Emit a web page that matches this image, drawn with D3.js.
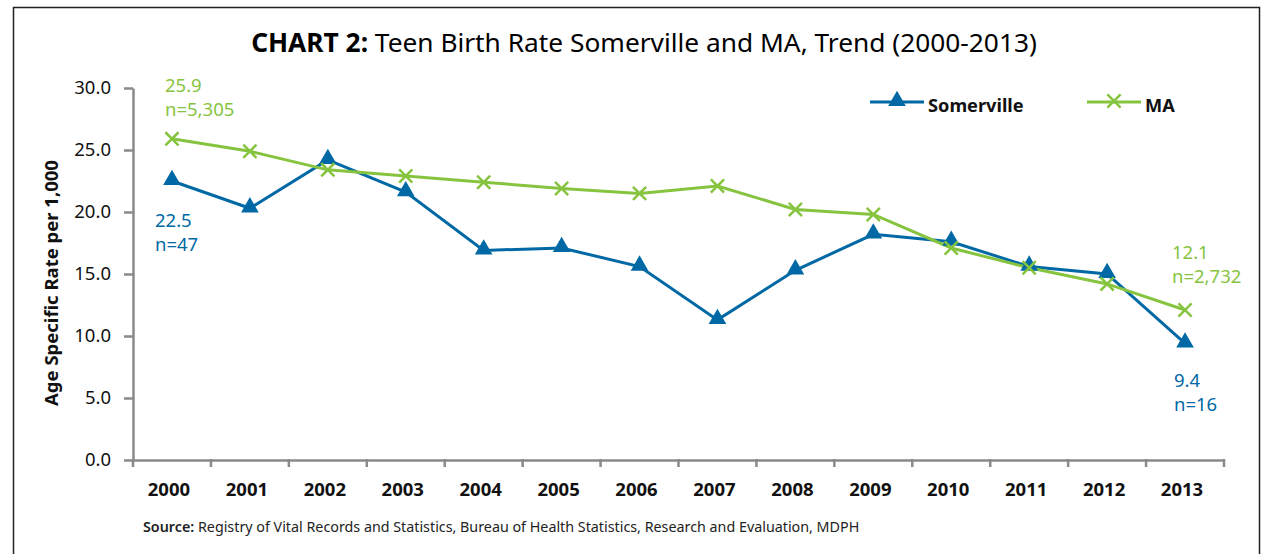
<!DOCTYPE html>
<html>
<head>
<meta charset="utf-8">
<script src="https://cdn.jsdelivr.net/npm/d3@7"></script>
<style>
  body { margin: 0; background: #fff; }
  text { font-family: "Noto Sans", sans-serif; }
</style>
</head>
<body>
<div id="my_dataviz"></div>
<script>
// data
const years = ["2000", "2001", "2002", "2003", "2004", "2005", "2006",
  "2007", "2008", "2009", "2010", "2011", "2012", "2013"];
const somerville = [22.5, 20.3, 24.2, 21.6, 16.9, 17.1, 15.6, 11.3, 15.3, 18.2, 17.6, 15.6, 15.0, 9.4];
const ma = [25.9, 24.9, 23.4, 22.9, 22.4, 21.9, 21.5, 22.1, 20.2, 19.8, 17.1, 15.5, 14.2, 12.1];
const yTicks = [0, 5, 10, 15, 20, 25, 30];

const blue = "#0069a5", green = "#86c440", axisGrey = "#8a8a8a";

// dimensions
const W = 1266, H = 554;
const plot = { left: 133, right: 1224, top: 88, bottom: 460 };

const svg = d3.select("#my_dataviz")
  .append("svg")
  .attr("width", W)
  .attr("height", H);

svg.append("rect").attr("width", W).attr("height", H).attr("fill", "#fff");

// outer frame (bottom edge runs off the page)
svg.append("rect")
  .attr("x", 13.5).attr("y", 7.5)
  .attr("width", 1246).attr("height", 600)
  .attr("fill", "none")
  .attr("stroke", "#222")
  .attr("stroke-width", 1.5);

// title
svg.append("text")
  .attr("x", 644).attr("y", 52)
  .attr("text-anchor", "middle")
  .style("font-size", "26.3px")
  .call(t => {
    t.append("tspan").attr("font-weight", "bold").text("CHART 2:");
    t.append("tspan").text(" Teen Birth Rate Somerville and MA, Trend (2000-2013)");
  });

// scales
const x = d3.scaleBand()
  .domain(years)
  .range([plot.left, plot.right])
  .padding(0);
const cx = d => x(d) + x.bandwidth() / 2;

const y = d3.scaleLinear()
  .domain([0, 30])
  .range([plot.bottom, plot.top]);

// Y axis
const yAxis = svg.append("g")
  .attr("transform", `translate(${plot.left},0)`)
  .call(d3.axisLeft(y).tickValues(yTicks).tickFormat(d3.format(".1f")).tickSize(9).tickSizeOuter(0).tickPadding(13));
yAxis.select(".domain").attr("stroke", axisGrey).attr("stroke-width", 2.5);
yAxis.selectAll(".tick line").attr("stroke", axisGrey).attr("stroke-width", 2.5);
yAxis.selectAll(".tick text")
  .attr("fill", "#111")
  .style("font-size", "18.5px");

// X axis: labels at band centres, ticks on band edges
const xAxis = svg.append("g")
  .attr("transform", `translate(0,${plot.bottom})`)
  .call(d3.axisBottom(x).tickSize(0).tickSizeOuter(0).tickPadding(23));
xAxis.select(".domain").attr("stroke", axisGrey).attr("stroke-width", 2.5);
xAxis.selectAll(".tick text")
  .attr("fill", "#111")
  .attr("font-weight", "bold")
  .attr("dx", -3)
  .style("font-size", "18.5px");
xAxis.selectAll(".edge")
  .data(years.concat(["end"]))
  .join("line")
  .attr("x1", (d, i) => plot.left + i * x.step())
  .attr("x2", (d, i) => plot.left + i * x.step())
  .attr("y1", -1).attr("y2", 7)
  .attr("stroke", axisGrey)
  .attr("stroke-width", 2.5);

// Y axis title
svg.append("text")
  .attr("transform", `translate(58,${(plot.top + plot.bottom) / 2 + 9}) rotate(-90)`)
  .attr("text-anchor", "middle")
  .attr("font-weight", "bold")
  .style("font-size", "18.5px")
  .attr("fill", "#111")
  .text("Age Specific Rate per 1,000");

// lines
const line = d3.line()
  .x((d, i) => cx(years[i]))
  .y(d => y(d));

svg.append("path")
  .datum(somerville)
  .attr("d", line)
  .attr("fill", "none")
  .attr("stroke", blue)
  .attr("stroke-width", 3);

svg.append("path")
  .datum(ma)
  .attr("d", line)
  .attr("fill", "none")
  .attr("stroke", green)
  .attr("stroke-width", 3);

// markers
const tri = d3.symbol().type(d3.symbolTriangle).size(135);
const cross = d3.symbol().type(d3.symbolX).size(115);

svg.selectAll(".tri")
  .data(somerville)
  .join("path")
  .attr("class", "tri")
  .attr("transform", (d, i) => `translate(${cx(years[i])},${y(d) - 1})`)
  .attr("d", tri)
  .attr("fill", blue);

svg.selectAll(".cross")
  .data(ma)
  .join("path")
  .attr("class", "cross")
  .attr("transform", (d, i) => `translate(${cx(years[i])},${y(d)})`)
  .attr("d", cross)
  .attr("fill", "none")
  .attr("stroke", green)
  .attr("stroke-width", 2.5);

// value annotations
const notes = [
  { lines: ["25.9", "n=5,305"], x: 165, y: 92, color: green },
  { lines: ["22.5", "n=47"], x: 155, y: 227, color: blue },
  { lines: ["12.1", "n=2,732"], x: 1172, y: 259, color: green },
  { lines: ["9.4", "n=16"], x: 1174, y: 387, color: blue }
];
notes.forEach(n => {
  n.lines.forEach((s, k) => {
    svg.append("text")
      .attr("x", n.x).attr("y", n.y + k * 24)
      .attr("fill", n.color)
      .style("font-size", "18.5px")
      .text(s);
  });
});

// legend
const legend = [
  { name: "Somerville", color: blue, sym: tri, fill: true, x: 870 },
  { name: "MA", color: green, sym: cross, fill: false, x: 1087 }
];
legend.forEach(l => {
  const g = svg.append("g").attr("transform", `translate(${l.x},102)`);
  g.append("line").attr("x1", 0).attr("x2", 54)
    .attr("stroke", l.color).attr("stroke-width", 3);
  g.append("path").attr("transform", "translate(27,-1)")
    .attr("d", l.sym)
    .attr("fill", l.fill ? l.color : "none")
    .attr("stroke", l.fill ? "none" : l.color)
    .attr("stroke-width", 2.5);
  g.append("text").attr("x", 58).attr("y", 10)
    .attr("font-weight", "bold")
    .style("font-size", "18.2px")
    .attr("fill", "#111")
    .text(l.name);
});

// source note
svg.append("text")
  .attr("x", 143).attr("y", 532)
  .style("font-size", "14.3px")
  .attr("fill", "#222")
  .call(t => {
    t.append("tspan").attr("font-weight", "600").text("Source:");
    t.append("tspan").text(" Registry of Vital Records and Statistics, Bureau of Health Statistics, Research and Evaluation, MDPH");
  });
</script>
</body>
</html>
